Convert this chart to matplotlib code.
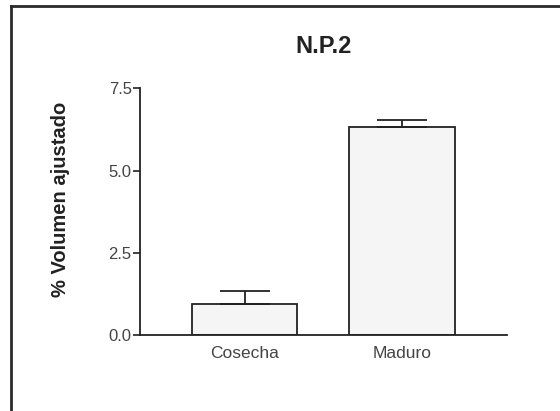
import matplotlib.pyplot as plt
from matplotlib.lines import Line2D

plt.rcParams['font.family'] = ['Liberation Sans', 'DejaVu Sans']

categories = ['Cosecha', 'Maduro']
means = [0.94, 6.31]
errors = [0.40, 0.22]
y_ticks = [0.0, 2.5, 5.0, 7.5]

fig = plt.figure(figsize=(5.6, 4.11), dpi=100)
ax = fig.add_axes([0.25, 0.185, 0.655, 0.6])

x = range(len(categories))
ax.bar(x, means, width=0.67, color='#f5f5f5', edgecolor='#222222', linewidth=1.3, zorder=2)
ax.errorbar(x, means, yerr=[[0] * len(errors), errors], fmt='none',
            ecolor='#222222', elinewidth=1.3, capsize=18, capthick=1.3, zorder=3)

ax.set_xlim(-0.667, 1.667)
ax.set_ylim(0, 7.5)
ax.set_yticks(y_ticks)
ax.set_yticklabels([f'{v:.1f}' for v in y_ticks])
ax.set_xticks(list(x))
ax.set_xticklabels(categories)

ax.spines['top'].set_visible(False)
ax.spines['right'].set_visible(False)
for side in ['left', 'bottom']:
    ax.spines[side].set_linewidth(1.3)
    ax.spines[side].set_color('#222222')

ax.tick_params(axis='y', length=5, width=1.2, pad=1, labelsize=12,
               labelcolor='#444444', color='#222222')
ax.tick_params(axis='x', length=0, pad=8, labelsize=12.5, labelcolor='#444444')

ax.set_ylabel('% Volumen ajustado', fontsize=14.5, fontweight='bold', color='#222222')
ax.yaxis.set_label_coords(-0.19, 0.548)
fig.text(0.577, 0.888, 'N.P.2', ha='center', va='center', fontsize=17, fontweight='bold',
         color='#222222')

# outer frame (top and left edges only)
fig.add_artist(Line2D([0.0196, 1.0], [0.985, 0.985], color='#2a2a2a', linewidth=2))
fig.add_artist(Line2D([0.0196, 0.0196], [0.0, 0.985], color='#2a2a2a', linewidth=2))

fig.savefig('out.png', dpi=100)
